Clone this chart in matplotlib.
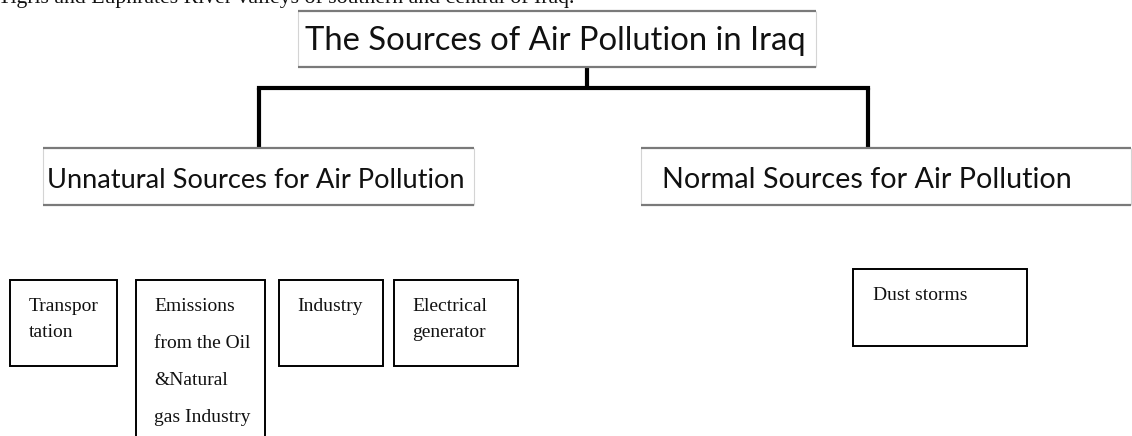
import matplotlib
matplotlib.use("Agg")
import matplotlib.pyplot as plt
from matplotlib.patches import Rectangle

# ---- content ----
header_text = "Tigris and Euphrates River valleys of southern and central of Iraq."
root_label = "The Sources of Air Pollution in Iraq"
branch_labels = ["Unnatural Sources for Air Pollution", "Normal Sources for Air Pollution"]
unnatural_leaves = [["Transpor", "tation"],
                    ["Emissions", "from the Oil", "&Natural", "gas Industry"],
                    ["Industry"],
                    ["Electrical", "generator"]]
normal_leaves = [["Dust storms"]]

# ---- layout (pixel space, y downward) ----
W, H = 1132, 436
fig = plt.figure(figsize=(W / 100, H / 100), dpi=100)
ax = fig.add_axes([0, 0, 1, 1])
ax.set_xlim(0, W)
ax.set_ylim(H, 0)
ax.axis("off")

renderer = fig.canvas.get_renderer()
SANS = "Lato"
SERIF = "Liberation Serif"


def fit_text(x, y, s, target_w, family, size0=20, **kw):
    t = ax.text(x, y, s, family=family, fontsize=size0, va="baseline", ha="left", **kw)
    bb = t.get_window_extent(renderer=renderer)
    t.set_fontsize(size0 * target_w / bb.width)
    return t


def title_box(x0, x1, y0, y1):
    ax.add_patch(Rectangle((x0, y0), x1 - x0, y1 - y0, facecolor="white",
                           edgecolor="none", zorder=2))
    ax.plot([x0, x0], [y0, y1], color="#d4d4d4", lw=0.8, zorder=3, solid_capstyle="butt")
    ax.plot([x1, x1], [y0, y1], color="#d4d4d4", lw=0.8, zorder=3, solid_capstyle="butt")
    ax.plot([x0, x1], [y0, y0], color="#7a7a7a", lw=1.6, zorder=3, solid_capstyle="butt")
    ax.plot([x0, x1], [y1, y1], color="#7a7a7a", lw=1.6, zorder=3, solid_capstyle="butt")


def leaf_box(x0, x1, y0, y1, lines, tx, baselines):
    ax.add_patch(Rectangle((x0, y0), x1 - x0, y1 - y0, facecolor="white",
                           edgecolor="black", lw=1.4, zorder=2))
    for s, b in zip(lines, baselines):
        ax.text(tx, b, s, family=SERIF, fontsize=14, va="baseline", ha="left",
                color="#111111", zorder=4)


# header line of the page (partly cut by the top edge, as in the reference)
fit_text(-2, 3, header_text, 578, SERIF, color="#111111")

# connectors
lw_conn = 3.0
ax.plot([587, 587], [67, 88], color="black", lw=lw_conn, zorder=1, solid_capstyle="butt")
ax.plot([259, 868], [88, 88], color="black", lw=lw_conn, zorder=1, solid_capstyle="projecting")
ax.plot([259, 259], [88, 148], color="black", lw=lw_conn, zorder=1, solid_capstyle="butt")
ax.plot([868, 868], [88, 148], color="black", lw=lw_conn, zorder=1, solid_capstyle="butt")

# root
title_box(298, 816, 11, 67)
fit_text(305, 50, root_label, 503, SANS, color="#111111", zorder=4)

# branches
title_box(43, 474, 148, 205)
fit_text(47, 188, branch_labels[0], 419, SANS, color="#111111", zorder=4)
title_box(641, 1131, 148, 205)
fit_text(662, 188, branch_labels[1], 410, SANS, color="#111111", zorder=4)

# leaves of the unnatural branch
leaf_box(10, 117, 280, 366, unnatural_leaves[0], 29, [311, 337])
leaf_box(136, 265, 280, 460, unnatural_leaves[1], 154, [311, 348, 385, 422])
leaf_box(279, 383, 280, 366, unnatural_leaves[2], 297, [311])
leaf_box(394, 518, 280, 366, unnatural_leaves[3], 412, [311, 337])

# leaf of the normal branch
leaf_box(853, 1027, 269, 346, normal_leaves[0], 873, [300])

fig.savefig("out.png", dpi=100)
